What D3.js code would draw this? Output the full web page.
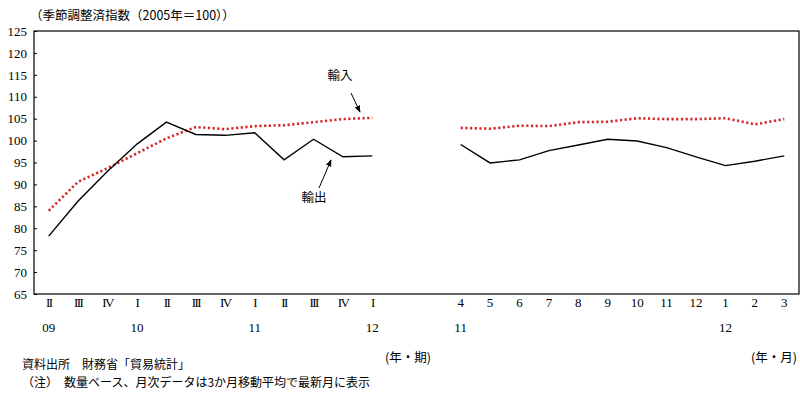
<!DOCTYPE html>
<html>
<head>
<meta charset="utf-8">
<script src="https://cdn.jsdelivr.net/npm/d3@7"></script>
<style>
body { margin: 0; background: #fff; }
svg { display: block; }
.jp { font-family: "Noto Sans CJK JP", sans-serif; font-size: 12.5px; fill: #000; }
.note { font-size: 12px; }
.num { font-family: "Liberation Serif", "DejaVu Serif", serif; font-size: 13px; fill: #000; }
.rom { letter-spacing: -1.6px; }
</style>
</head>
<body>
<script>
// categories: 12 quarters, 2 blank slots, 12 months
var quarterLabels = ["II","III","IV","I","II","III","IV","I","II","III","IV","I"];
var quarterYears = ["09","","","10","","","","11","","","","12"];
var monthLabels = ["4","5","6","7","8","9","10","11","12","1","2","3"];
var monthYears = ["11","","","","","","","","","12","",""];

var exportQ = [78.2, 86.2, 93.0, 99.2, 104.2, 101.4, 101.2, 101.8, 95.6, 100.3, 96.3, 96.5];
var importQ = [84.0, 90.6, 93.7, 97.1, 100.5, 103.1, 102.6, 103.3, 103.5, 104.2, 104.9, 105.2];
var exportM = [99.1, 94.9, 95.6, 97.7, 99.0, 100.3, 99.9, 98.4, 96.3, 94.3, 95.3, 96.5];
var importM = [102.9, 102.7, 103.4, 103.3, 104.2, 104.3, 105.1, 104.9, 104.9, 105.1, 103.7, 104.9];

var yTicks = [65, 70, 75, 80, 85, 90, 95, 100, 105, 110, 115, 120, 125];

var W = 800, H = 396;
var pL = 34, pR = 799, pT = 31, pB = 294;

var svg = d3.select("body").append("svg")
    .attr("width", W)
    .attr("height", H);

var keys = d3.range(26);
var x = d3.scaleBand().domain(keys).range([pL, pR]);
var y = d3.scaleLinear().domain([65, 125]).range([pB, pT]);
var cx = function(i) { return x(i) + x.bandwidth() / 2; };

// frame
svg.append("rect")
    .attr("x", pL).attr("y", pT)
    .attr("width", pR - pL).attr("height", pB - pT)
    .attr("fill", "none").attr("stroke", "#000").attr("stroke-width", 1.2);

// y axis, inner ticks
var yAxis = d3.axisLeft(y).tickValues(yTicks).tickSize(-3).tickPadding(6);
var ga = svg.append("g").attr("transform", "translate(" + pL + ",0)").call(yAxis);
ga.attr("font-family", null).attr("font-size", null);
ga.select(".domain").remove();
ga.selectAll("line").attr("stroke", "#000");
ga.selectAll("text").attr("class", "num").attr("x", -7);

// title
svg.append("text").attr("class", "jp").attr("x", 30).attr("y", 20)
    .text("（季節調整済指数（2005年＝100））");

// lines
var qIdx = d3.range(12);
var mIdx = d3.range(14, 26);
var line = d3.line().x(function(d) { return cx(d[0]); }).y(function(d) { return y(d[1]); });

function seg(idx, vals) { return idx.map(function(k, i) { return [k, vals[i]]; }); }

[seg(qIdx, importQ), seg(mIdx, importM)].forEach(function(s) {
    svg.append("path").datum(s).attr("d", line)
        .attr("fill", "none").attr("stroke", "#d42a2a")
        .attr("stroke-width", 2.6).attr("stroke-dasharray", "2.2,2.5");
});
[seg(qIdx, exportQ), seg(mIdx, exportM)].forEach(function(s) {
    svg.append("path").datum(s).attr("d", line)
        .attr("fill", "none").attr("stroke", "#000")
        .attr("stroke-width", 1.4);
});

// x labels
var xl = svg.append("g");
quarterLabels.forEach(function(t, i) {
    xl.append("text").attr("class", "num rom").attr("x", cx(i)).attr("y", 307)
        .attr("text-anchor", "middle").text(t);
    if (quarterYears[i]) xl.append("text").attr("class", "num").attr("x", cx(i)).attr("y", 332)
        .attr("text-anchor", "middle").text(quarterYears[i]);
});
monthLabels.forEach(function(t, i) {
    xl.append("text").attr("class", "num").attr("x", cx(i + 14)).attr("y", 307)
        .attr("text-anchor", "middle").text(t);
    if (monthYears[i]) xl.append("text").attr("class", "num").attr("x", cx(i + 14)).attr("y", 332)
        .attr("text-anchor", "middle").text(monthYears[i]);
});

// annotations
svg.append("defs").append("marker")
    .attr("id", "ah").attr("viewBox", "0 0 10 10").attr("refX", 9).attr("refY", 5)
    .attr("markerWidth", 7).attr("markerHeight", 7).attr("orient", "auto")
    .append("path").attr("d", "M0,1 L10,5 L0,9 Z").attr("fill", "#000");

svg.append("text").attr("class", "jp").attr("x", 340).attr("y", 80)
    .attr("text-anchor", "middle").text("輸入");
svg.append("line").attr("x1", 351).attr("y1", 93).attr("x2", 360).attr("y2", 112)
    .attr("stroke", "#000").attr("marker-end", "url(#ah)");
svg.append("text").attr("class", "jp").attr("x", 314).attr("y", 202)
    .attr("text-anchor", "middle").text("輸出");
svg.append("line").attr("x1", 319).attr("y1", 188).attr("x2", 331).attr("y2", 160)
    .attr("stroke", "#000").attr("marker-end", "url(#ah)");

// footer
svg.append("text").attr("class", "jp").attr("x", 385).attr("y", 362).text("(年・期)");
svg.append("text").attr("class", "jp").attr("x", 797).attr("y", 362)
    .attr("text-anchor", "end").text("(年・月)");
svg.append("text").attr("class", "jp note").attr("x", 22).attr("y", 369).text("資料出所　財務省「貿易統計」");
svg.append("text").attr("class", "jp note").attr("x", 22).attr("y", 387).text("（注）　数量ベース、月次データは3か月移動平均で最新月に表示");
</script>
</body>
</html>
